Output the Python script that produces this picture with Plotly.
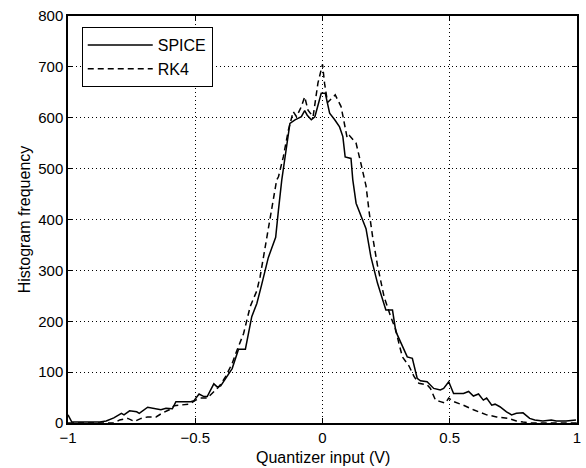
import plotly.graph_objects as go

# SPICE (solid) histogram
spice_x = [-1.0, -0.985, -0.875, -0.85, -0.82, -0.79, -0.78, -0.758, -0.73, -0.72, -0.687, -0.66,
           -0.635, -0.615, -0.59, -0.576, -0.55, -0.518, -0.505, -0.485, -0.466, -0.453, -0.427,
           -0.414, -0.40, -0.375, -0.355, -0.33, -0.303, -0.278, -0.258, -0.239, -0.213, -0.20,
           -0.184, -0.173, -0.16, -0.128, -0.108, -0.083, -0.07, -0.06, -0.044, -0.03, -0.005,
           0.011, 0.028, 0.048, 0.067, 0.08, 0.089, 0.112, 0.119, 0.132, 0.171, 0.19, 0.216,
           0.249, 0.275, 0.288, 0.314, 0.333, 0.353, 0.372, 0.385, 0.411, 0.437, 0.463, 0.476,
           0.496, 0.515, 0.554, 0.574, 0.593, 0.613, 0.632, 0.645, 0.665, 0.678, 0.697, 0.723,
           0.743, 0.762, 0.788, 0.814, 0.834, 0.866, 0.899, 0.918, 0.957, 0.996]
spice_y = [16, 2, 2, 4, 10, 19, 16, 24, 22, 19, 31, 29,
           26, 29, 28, 42, 42, 42, 44, 57, 52, 52, 77,
           71, 73, 91, 107, 145, 145, 209, 235, 272, 325, 343,
           365, 419, 478, 589, 596, 602, 614, 605, 596, 602, 648,
           648, 609, 596, 582, 563, 523, 520, 478, 432, 382, 327, 275,
           222, 222, 180, 153, 130, 127, 88, 83, 81, 68, 65, 68,
           81, 58, 58, 62, 53, 57, 45, 49, 35, 37, 32, 22,
           16, 19, 20, 9, 6, 4, 6, 4, 4, 6]

# RK4 (dashed) histogram
rk4_x = [-1.0, -0.9, -0.82, -0.797, -0.765, -0.739, -0.713, -0.687, -0.654, -0.628, -0.602,
         -0.583, -0.557, -0.524, -0.498, -0.479, -0.453, -0.433, -0.407, -0.381, -0.355,
         -0.336, -0.31, -0.284, -0.258, -0.245, -0.225, -0.206, -0.193, -0.18, -0.173,
         -0.154, -0.134, -0.115, -0.102, -0.083, -0.07, -0.057, -0.037, -0.018, 0.0, 0.008,
         0.02, 0.035, 0.05, 0.073, 0.087, 0.097, 0.106, 0.132, 0.151, 0.171, 0.184, 0.197,
         0.216, 0.242, 0.268, 0.288, 0.30, 0.314, 0.34, 0.36, 0.379, 0.411, 0.424, 0.444,
         0.463, 0.483, 0.496, 0.515, 0.554, 0.593, 0.645, 0.684, 0.73, 0.762, 0.788, 0.82,
         0.9, 1.0]
rk4_y = [0, 0, 0, 6, 9, 3, 9, 12, 12, 20, 26,
         34, 35, 37, 45, 49, 49, 58, 71, 91, 117,
         143, 176, 229, 260, 288, 347, 406, 445, 478, 484,
         523, 576, 612, 602, 622, 641, 615, 602, 668, 705, 668,
         630, 638, 645, 622, 589, 560, 565, 550, 510, 466, 412, 366,
         310, 248, 209, 183, 157, 130, 112, 91, 78, 75, 68, 45,
         42, 39, 49, 42, 35, 26, 16, 12, 9, 4, 2, 0,
         0, 0]

x_ticks = [-1, -0.5, 0, 0.5, 1]
x_labels = ["\u22121", "\u22120.5", "0", "0.5", "1"]
y_ticks = [0, 100, 200, 300, 400, 500, 600, 700, 800]

font = "Liberation Sans, Arial, Helvetica, sans-serif"

fig = go.Figure()
fig.add_trace(go.Scatter(x=spice_x, y=spice_y, mode="lines", name="SPICE",
                         line=dict(color="black", width=1.5)))
fig.add_trace(go.Scatter(x=rk4_x, y=rk4_y, mode="lines", name="RK4",
                         line=dict(color="black", width=1.5, dash="6px,4px")))

axis_common = dict(showline=True, linecolor="black", linewidth=1.5, mirror="ticks",
                   ticks="inside", ticklen=5, tickcolor="black", tickwidth=1,
                   showgrid=True, gridcolor="black", gridwidth=1, griddash="1px,3px",
                   zeroline=False, tickfont=dict(family=font, size=15, color="black"))

fig.update_xaxes(range=[-1, 1], tickvals=x_ticks, ticktext=x_labels, **axis_common)
fig.update_yaxes(range=[0, 800], tickvals=y_ticks,
                 title=dict(text="Histogram frequency", font=dict(family=font, size=16, color="black"),
                            standoff=4),
                 **axis_common)

fig.add_annotation(text="Quantizer input (V)", xref="paper", yref="paper",
                   x=0.5, y=-0.058, xanchor="center", yanchor="top", showarrow=False,
                   font=dict(family=font, size=16, color="black"))

fig.update_layout(
    width=586, height=468,
    margin=dict(l=68, r=5, t=16, b=45),
    paper_bgcolor="white", plot_bgcolor="white",
    showlegend=True,
    legend=dict(x=0.027, y=0.973, xanchor="left", yanchor="top",
                bgcolor="white", bordercolor="black", borderwidth=1,
                font=dict(family=font, size=16, color="black"),
                itemwidth=65, tracegroupgap=0),
)

fig.write_html("out.html")
